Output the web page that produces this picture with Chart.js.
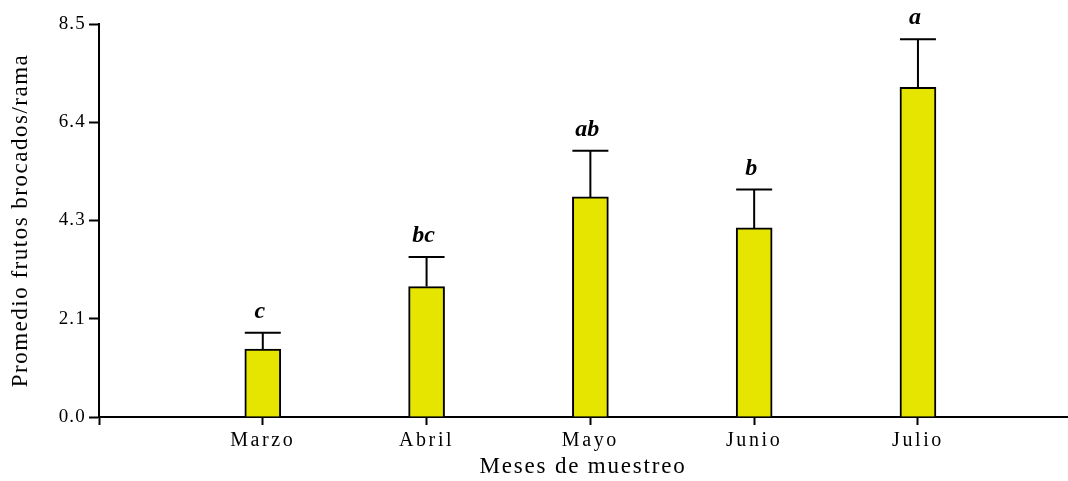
<!DOCTYPE html>
<html>
<head>
<meta charset="utf-8">
<style>
  html, body { margin: 0; padding: 0; background: #fff; }
  #wrap { width: 1068px; height: 481px; }
</style>
<script src="https://cdn.jsdelivr.net/npm/chart.js@4/dist/chart.umd.min.js"></script>
</head>
<body>
<div id="wrap"><canvas id="chart" width="1068" height="481"></canvas></div>
<script>
// ── Data ──────────────────────────────────────────────────────────────────────
const months  = ["Marzo", "Abril", "Mayo", "Junio", "Julio"];
const means   = [1.47, 2.82, 4.76, 4.09, 7.13];
const errors  = [0.35, 0.64, 1.00, 0.83, 1.04];
const letters = ["c", "bc", "ab", "b", "a"];
const yTicks  = [0, 2.125, 4.25, 6.375, 8.5];
const yTickLabels = ["0.0", "2.1", "4.3", "6.4", "8.5"];

const SERIF = "'Liberation Serif', 'Times New Roman', serif";
const INK = "#000";

// letter spacing per scale part (the original text is set a bit wide)
const SPACING = {
  x: { drawLabels: "2.6px", drawTitle: "1.8px" },
  y: { drawLabels: "1.2px", drawTitle: "1.5px" },
};

const spacing = {
  id: "spacing",
  afterUpdate(chart) {
    Object.values(chart.scales).forEach(s => {
      if (s._spaced) return;
      s._spaced = true;
      ["drawLabels", "drawTitle"].forEach(m => {
        const orig = s[m].bind(s);
        s[m] = (...args) => {
          const c = chart.ctx;
          const prev = c.letterSpacing;
          c.letterSpacing = SPACING[s.id][m];
          orig(...args);
          c.letterSpacing = prev || "0px";
        };
      });
    });
  },
};

// ── Error bars + significance letters ─────────────────────────────────────────
const errorBars = {
  id: "errorBars",
  afterDatasetsDraw(chart) {
    const { ctx, scales: { x, y } } = chart;
    ctx.save();
    ctx.strokeStyle = INK;
    ctx.lineWidth = 2;
    ctx.fillStyle = INK;
    ctx.font = `italic bold 24px ${SERIF}`;
    ctx.textAlign = "center";
    ctx.textBaseline = "alphabetic";
    means.forEach((m, i) => {
      const px   = x.getPixelForValue(i + 1);
      const yBar = y.getPixelForValue(m);
      const yTop = y.getPixelForValue(m + errors[i]);
      ctx.beginPath();
      ctx.moveTo(px, yBar);
      ctx.lineTo(px, yTop);
      ctx.moveTo(px - 18, yTop);
      ctx.lineTo(px + 18, yTop);
      ctx.stroke();
      ctx.fillText(letters[i], px - 3, yTop - 15);
    });
    ctx.restore();
  },
};

// ── Chart ─────────────────────────────────────────────────────────────────────
new Chart(document.getElementById("chart"), {
  type: "bar",
  data: {
    datasets: [{
      data: means.map((v, i) => ({ x: i + 1, y: v })),
      backgroundColor: "#E5E500",
      borderColor: INK,
      borderWidth: 2,
      borderSkipped: "start",
      barThickness: 36,
    }],
  },
  options: {
    responsive: false,
    animation: false,
    layout: { padding: { top: 24, right: 1, bottom: 0, left: 0 } },
    plugins: { legend: { display: false }, tooltip: { enabled: false } },
    scales: {
      x: {
        type: "linear",
        offset: false,
        min: 0, max: 5.91,
        afterBuildTicks: s => { s.ticks = [0, 1, 2, 3, 4, 5].map(v => ({ value: v })); },
        afterFit: s => { s.height = 64; },
        grid: { offset: false, drawOnChartArea: false, tickLength: 8, tickWidth: 2, tickColor: INK },
        border: { display: true, color: INK, width: 2 },
        ticks: {
          color: INK, padding: 4, maxRotation: 0, autoSkip: false,
          font: { family: SERIF, size: 20 },
          callback: v => months[v - 1] || "",
        },
        title: {
          display: true, text: "Meses de muestreo", color: INK,
          font: { family: SERIF, size: 23 },
          padding: { top: 0, bottom: 0 },
        },
      },
      y: {
        min: 0, max: 8.5,
        afterBuildTicks: s => { s.ticks = yTicks.map(v => ({ value: v })); },
        afterFit: s => { s.width = 99; },
        grid: { drawOnChartArea: false, tickLength: 10, tickWidth: 2, tickColor: INK },
        border: { display: true, color: INK, width: 2 },
        ticks: {
          color: INK, padding: 3,
          font: { family: SERIF, size: 19 },
          callback: v => yTickLabels[yTicks.indexOf(v)],
        },
        title: {
          display: true, text: "Promedio frutos brocados/rama", color: INK,
          font: { family: SERIF, size: 23 },
          padding: { top: 7, bottom: 4 },
        },
      },
    },
  },
  plugins: [spacing, errorBars],
});
</script>
</body>
</html>
